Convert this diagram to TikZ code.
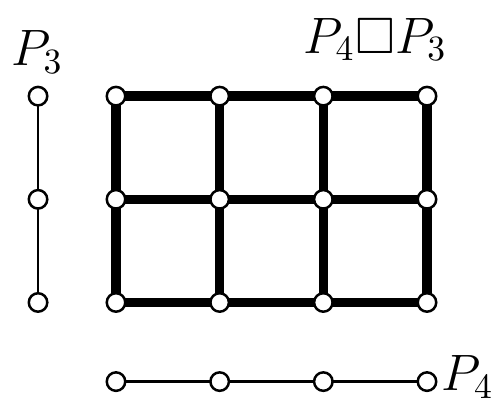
\documentclass[tikz,border=0pt]{standalone}
\usepackage{amssymb}
\usetikzlibrary{positioning,backgrounds}
\tikzset{vtx/.style={circle,draw,fill=white,inner sep=0pt,minimum size=5.2pt,line width=0.7pt}}
\begin{document}
\begin{tikzpicture}[x=1.025cm,y=1.02cm,line cap=round]
	\useasboundingbox (-1.119,-0.981) rectangle (3.714,2.932);
	% the path P_3
	\foreach \j in {0,1,2} \node[vtx] (a\j) at (-0.752,\j) {};
	\node[font=\Large,inner sep=0pt] (la) at (-0.76,2.43) {$P_3$};
	% the path P_4
	\foreach \i in {0,1,2,3} \node[vtx] (b\i) at (\i,-0.767) {};
	\node[font=\Large,inner sep=0pt,right=1pt of b3,yshift=1.2pt] (lb) {$P_4$};
	% the product
	\foreach \i in {0,1,2,3} \foreach \j in {0,1,2} \node[vtx] (g\i\j) at (\i,\j) {};
	\node[font=\Large,inner sep=0pt] (lg) at (2.5,2.55) {$P_4\square P_3$};
	% edges below the vertices
	\begin{scope}[on background layer]
		\draw[line width=0.8pt] (a0.center) -- (a1.center) -- (a2.center);
		\draw[line width=0.8pt] (b0.center) -- (b1.center) -- (b2.center) -- (b3.center);
		\foreach \i in {0,1,2,3} \draw[line width=2.7pt] (g\i0.center) -- (g\i1.center) -- (g\i2.center);
		\foreach \j in {0,1,2} \draw[line width=2.7pt] (g0\j.center) -- (g1\j.center) -- (g2\j.center) -- (g3\j.center);
	\end{scope}
\end{tikzpicture}
\end{document}
